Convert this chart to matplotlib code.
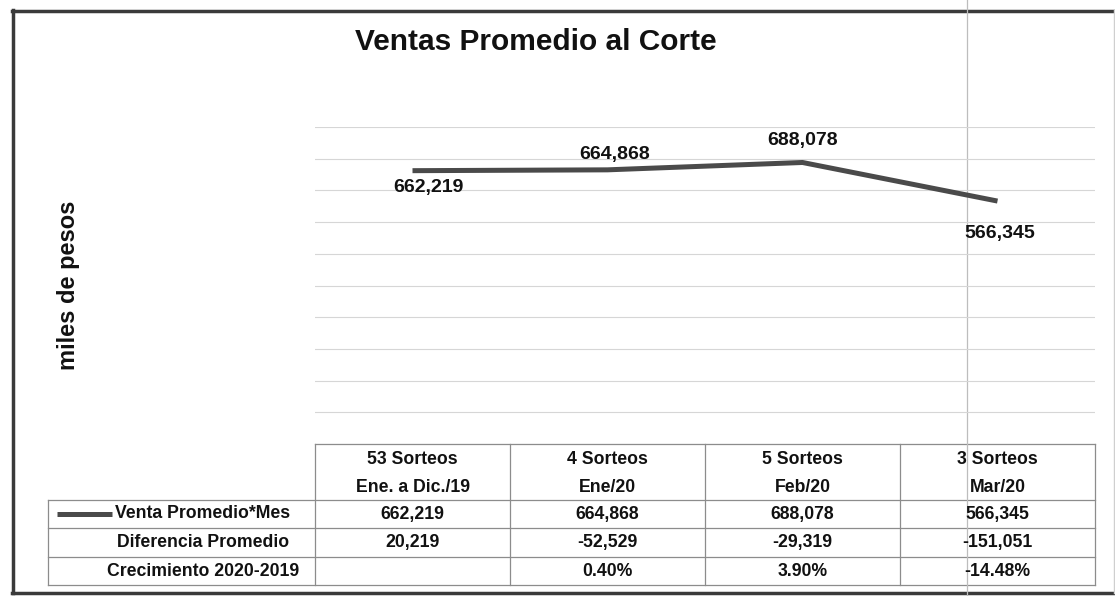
import matplotlib.pyplot as plt
from matplotlib.transforms import blended_transform_factory

plt.rcParams['font.family'] = ['Liberation Sans', 'DejaVu Sans']
plt.rcParams['font.weight'] = 'bold'

# Datos
sorteos = ['53 Sorteos', '4 Sorteos', '5 Sorteos', '3 Sorteos']
periodos = ['Ene. a Dic./19', 'Ene/20', 'Feb/20', 'Mar/20']
venta_promedio = [662219, 664868, 688078, 566345]
diferencia = ['20,219', '-52,529', '-29,319', '-151,051']
crecimiento = ['', '0.40%', '3.90%', '-14.48%']
filas = ['Venta Promedio*Mes', 'Diferencia Promedio', 'Crecimiento 2020-2019']

W, H = 1115, 596
fig = plt.figure(figsize=(W / 100, H / 100), dpi=100)

# capa en pixeles para tabla, marco y textos
bg = fig.add_axes([0, 0, 1, 1])
bg.set_xlim(0, W)
bg.set_ylim(H, 0)
bg.axis('off')

# area del grafico
x0, x1, y0, y1 = 315, 1095, 127, 444
ax = fig.add_axes([x0 / W, 1 - y1 / H, (x1 - x0) / W, (y1 - y0) / H])
x = list(range(len(venta_promedio)))
ax.set_xlim(-0.5, len(x) - 0.5)
ax.set_ylim(-200000, 800000)
ax.set_yticks(range(-200000, 800001, 100000))
ax.yaxis.grid(True, color='#d6d6d6', lw=0.8)
ax.set_axisbelow(True)
ax.tick_params(left=False, bottom=False, labelleft=False, labelbottom=False)
for s in ax.spines.values():
    s.set_visible(False)
ax.patch.set_alpha(0)

ax.plot(x, venta_promedio, color='#4a4a4a', lw=3.6, solid_capstyle='butt')

offsets = [(16, -17), (7, 15), (0, 22), (2, -32)]
for xi, v, off in zip(x, venta_promedio, offsets):
    ax.annotate(f'{v:,}', (xi, v), xytext=off, textcoords='offset pixels',
                ha='center', va='center', fontsize=14, fontweight='bold', color='#111111')

# titulo y eje
bg.text(536, 42, 'Ventas Promedio al Corte', ha='center', va='center',
        fontsize=21.5, fontweight='bold', color='#111111')
bg.text(68, 285, 'miles de pesos', ha='center', va='center', rotation=90,
        fontsize=17, fontweight='bold', color='#111111')

# tabla de datos
tr = blended_transform_factory(ax.transData, bg.transData)
gc = '#8c8c8c'
lw = 0.9
left = 48
head_top, rows = 444, [500, 528, 557, 585]
bounds = [i - 0.5 for i in range(len(x) + 1)]

bg.plot([x0, x1], [head_top, head_top], color=gc, lw=lw)
for r in rows:
    bg.plot([left, x1], [r, r], color=gc, lw=lw)
for b in bounds:
    ax.plot([b, b], [head_top, rows[-1]], color=gc, lw=lw, transform=tr, clip_on=False)
bg.plot([left, left], [rows[0], rows[-1]], color=gc, lw=lw)

fs = 12.7
for xi in x:
    ax.text(xi, 460, sorteos[xi], transform=tr, ha='center', va='center', fontsize=fs, color='#111111')
    ax.text(xi, 487, periodos[xi], transform=tr, ha='center', va='center', fontsize=fs, color='#111111')
    ax.text(xi, 514, f'{venta_promedio[xi]:,}', transform=tr, ha='center', va='center', fontsize=fs, color='#111111')
    ax.text(xi, 542.5, diferencia[xi], transform=tr, ha='center', va='center', fontsize=fs, color='#111111')
    ax.text(xi, 571, crecimiento[xi], transform=tr, ha='center', va='center', fontsize=fs, color='#111111')

bg.plot([57, 112], [514, 514], color='#4a4a4a', lw=3.6, solid_capstyle='butt')
bg.text(115, 514, filas[0], ha='left', va='center', fontsize=fs, color='#111111')
bg.text(203, 542.5, filas[1], ha='center', va='center', fontsize=fs, color='#111111')
bg.text(203, 571, filas[2], ha='center', va='center', fontsize=fs, color='#111111')

# marco del grafico
bg.plot([12.5, 12.5], [10, 593], color='#3a3a3a', lw=2.5)
bg.plot([12, W], [10.5, 10.5], color='#3a3a3a', lw=2.5)
bg.plot([12, W], [592.5, 592.5], color='#3a3a3a', lw=2.5)
bg.plot([1113.5, 1113.5], [10, 593], color='#cfcfcf', lw=1)
bg.plot([967, 967], [0, H], color='#bdbdbd', lw=0.9)

fig.savefig('out.png', dpi=100)
